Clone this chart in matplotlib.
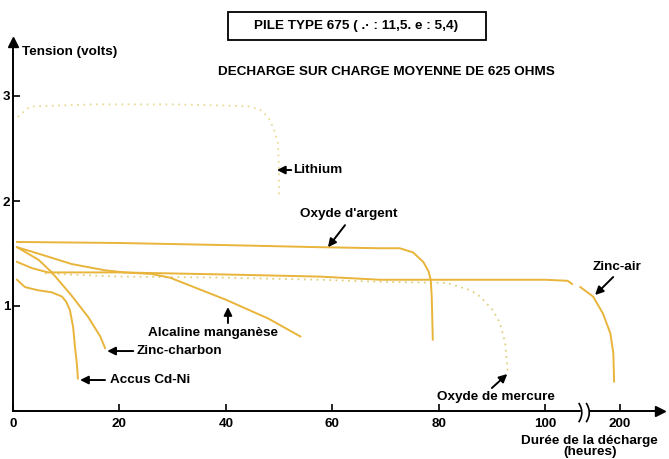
import numpy as np
import matplotlib
matplotlib.use("Agg")
import matplotlib.pyplot as plt
from matplotlib.patches import Rectangle

# Discharge curves of a 675 cell on a 625 ohm load: hours vs volts
lithium_h = [0.9, 3.2, 15, 30, 39.5, 44.5, 46.8, 48.3, 49.2, 49.8, 50.0, 50.0]
lithium_v = [2.80, 2.90, 2.92, 2.92, 2.91, 2.90, 2.86, 2.77, 2.66, 2.55, 2.30, 2.02]

argent_h = [0.75, 20, 40, 57.7, 69, 72.7, 75.2, 77.1, 78.1, 78.5, 78.7, 78.9]
argent_v = [1.61, 1.60, 1.58, 1.56, 1.55, 1.55, 1.51, 1.42, 1.33, 1.25, 1.09, 0.68]

zincair_h = [0.75, 3.6, 6.6, 10, 20, 40, 57.7, 69, 100, 130, 136]
zincair_v = [1.42, 1.36, 1.32, 1.32, 1.32, 1.30, 1.28, 1.25, 1.25, 1.24, 1.21]
zincair_tail_h = [147, 164, 177, 187, 191, 192]
zincair_tail_v = [1.18, 1.09, 0.93, 0.74, 0.55, 0.28]

mercure_h = [6, 20, 40, 57.7, 69, 81.6, 86, 87.8, 90.2, 91.5, 92.5, 93.0]
mercure_v = [1.31, 1.28, 1.27, 1.25, 1.23, 1.22, 1.15, 1.09, 0.96, 0.84, 0.65, 0.36]

alcaline_h = [0.75, 4.7, 11, 17.3, 21, 26, 29.5, 32, 40, 48, 54]
alcaline_v = [1.56, 1.50, 1.40, 1.34, 1.32, 1.305, 1.27, 1.22, 1.06, 0.88, 0.71]

charbon_h = [0.75, 4.8, 7.3, 11.0, 14.2, 16.4, 17.3]
charbon_v = [1.56, 1.44, 1.32, 1.10, 0.89, 0.71, 0.60]

cdni_h = [0.75, 2.25, 4.7, 7.3, 9.2, 10.0, 10.7, 11.3, 11.65, 12.0, 12.2]
cdni_v = [1.25, 1.18, 1.15, 1.13, 1.09, 1.04, 0.96, 0.80, 0.61, 0.45, 0.31]

x_ticks = [0, 20, 40, 60, 80, 100, 200]
y_ticks = [1, 2, 3]

SOLID = "#E8B43A"
DOTTED = "#E0D07E"
FAINT = "#E9DB98"
FONT = "Liberation Sans"
FS = 9.7

# Time axis: linear up to 100 h, compressed between 100 h and 200 h
K = 0.141


def fwd(t):
    t = np.asarray(t, dtype=float)
    return np.where(t <= 100, t, 100 + (t - 100) * K)


def inv(p):
    p = np.asarray(p, dtype=float)
    return np.where(p <= 100, p, 100 + (p - 100) / K)


fig = plt.figure(figsize=(6.69, 4.59), dpi=100)
W, H = 669, 459
ax = fig.add_axes([13 / W, (H - 411) / H, (660 - 13) / W, (411 - 42) / H])
ax.set_xscale("function", functions=(fwd, inv))
ax.set_xlim(0, float(inv(121.6)))
ax.set_ylim(0, (411 - 42) / 105)

for s in ["top", "right"]:
    ax.spines[s].set_visible(False)
for s in ["left", "bottom"]:
    ax.spines[s].set_linewidth(1.4)
    ax.spines[s].set_color("black")

ax.set_xticks(x_ticks)
ax.set_xticklabels([str(v) for v in x_ticks])
ax.set_yticks(y_ticks)
ax.set_yticklabels([str(v) for v in y_ticks])
ax.tick_params(axis="x", direction="in", length=5, width=1.2, pad=5)
ax.tick_params(axis="y", direction="in", length=5, width=1.2, pad=2)
for lab in ax.get_xticklabels() + ax.get_yticklabels():
    lab.set_fontfamily(FONT)
    lab.set_fontweight("bold")
    lab.set_fontsize(FS)

# axis arrowheads
ax.plot(0, 1, marker="^", color="black", markersize=7, transform=ax.transAxes, clip_on=False)
ax.plot(1, 0, marker=">", color="black", markersize=7, transform=ax.transAxes, clip_on=False)

# curves
ax.plot(lithium_h, lithium_v, color=FAINT, lw=1.3, ls=(0, (1, 2.5)))
ax.plot(mercure_h, mercure_v, color=DOTTED, lw=1.3, ls=(0, (1, 2.5)))
ax.plot(argent_h, argent_v, color=SOLID, lw=1.4)
ax.plot(zincair_h, zincair_v, color=SOLID, lw=1.4)
ax.plot(zincair_tail_h, zincair_tail_v, color=SOLID, lw=1.4)
ax.plot(alcaline_h, alcaline_v, color=SOLID, lw=1.4)
ax.plot(charbon_h, charbon_v, color=SOLID, lw=1.4)
ax.plot(cdni_h, cdni_v, color=SOLID, lw=1.4)

# axis break marks
ax.fill_between(inv(np.array([106.8, 108.0])), -0.03, 0.03, color="white", zorder=3, clip_on=False)
tt = np.linspace(-1, 1, 30)
for p0 in (106.4, 107.8):
    pp = p0 + 0.5 * (1 - tt ** 2)
    ax.plot(inv(pp), 0.085 * tt - 0.015, color="black", lw=1.2, clip_on=False, zorder=4)

txt = dict(fontfamily=FONT, fontweight="bold", fontsize=FS, color="black")
arrow = dict(arrowstyle="-|>", color="black", lw=1.4, mutation_scale=12, shrinkA=0, shrinkB=0)


def label(text, xy_text, xy_head, xy_tail, ha="left"):
    ax.annotate("", xy=xy_head, xytext=xy_tail, arrowprops=arrow)
    ax.text(*xy_text, text, ha=ha, va="center", **txt)


label("Lithium", (52.6, 2.295), (49.6, 2.295), (52.3, 2.295))
label("Oxyde d'argent", (53.9, 1.876), (59.2, 1.56), (62.4, 1.77))
label("Zinc-air", (float(inv(113.6)), 1.37), (float(inv(109.4)), 1.105), (float(inv(112.8)), 1.276), ha="center")
label("Alcaline manganèse", (37.5, 0.743), (40.4, 0.99), (40.4, 0.838), ha="center")
label("Zinc-charbon", (23.3, 0.571), (17.7, 0.571), (22.6, 0.571))
label("Accus Cd-Ni", (18.2, 0.295), (12.6, 0.295), (17.3, 0.295))
label("Oxyde de mercure", (90.7, 0.133), (92.9, 0.352), (90.0, 0.219), ha="center")

# headings
fig.patches.append(Rectangle((228 / W, 1 - 40 / H), 258 / W, 28 / H, transform=fig.transFigure,
                             fill=False, edgecolor="black", lw=1.3))
fig.text(356 / W, 1 - 26 / H, "PILE TYPE 675 ( .· : 11,5. e : 5,4)", ha="center", va="center", **txt)
fig.text(386 / W, 1 - 72 / H, "DECHARGE SUR CHARGE MOYENNE DE 625 OHMS", ha="center", va="center", **txt)
fig.text(22 / W, 1 - 52 / H, "Tension (volts)", ha="left", va="center", **txt)
fig.text(589 / W, 1 - 441 / H, "Durée de la décharge", ha="center", va="center", **txt)
fig.text(590 / W, 1 - 452 / H, "(heures)", ha="center", va="center", **txt)

fig.savefig("out.png", dpi=100, facecolor="white")
